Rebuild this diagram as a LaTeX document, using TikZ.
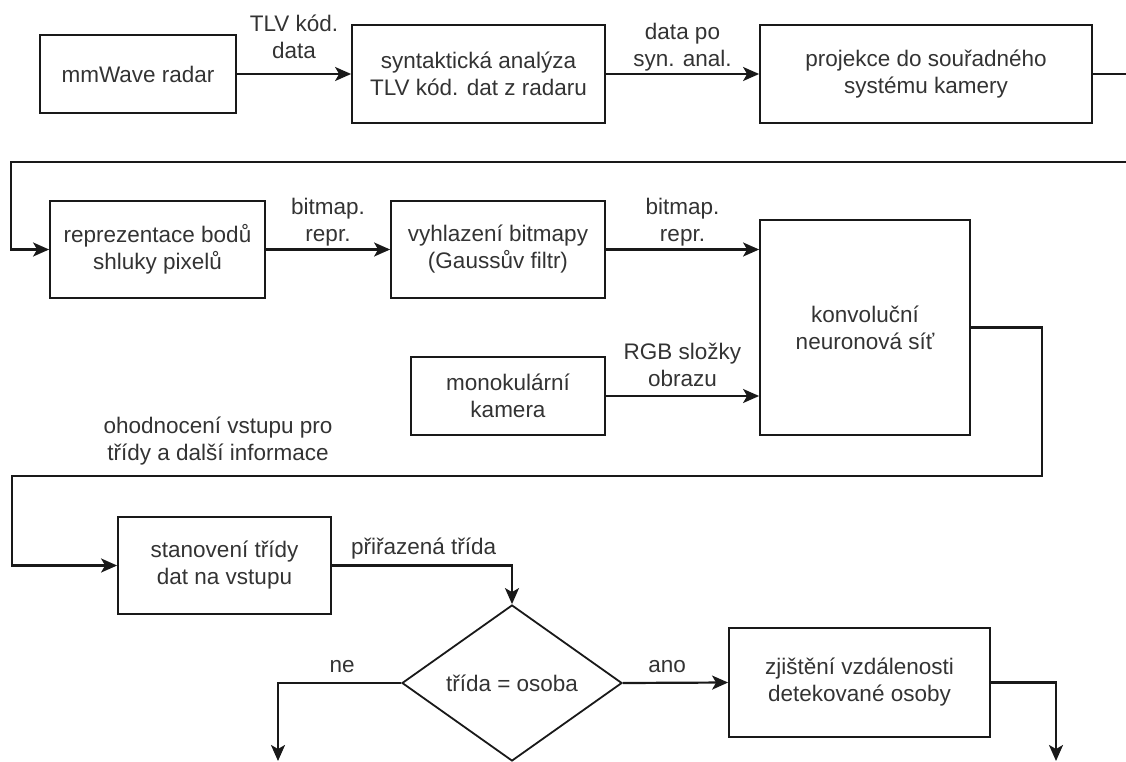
\documentclass[tikz,border=0pt]{standalone}
\usepackage{fontspec}
\setmainfont{Liberation Sans}
\usetikzlibrary{shapes.geometric, arrows.meta, positioning, calc}
\tikzstyle{process} = [rectangle, draw=black!90, line width=1.8pt, inner sep=0pt, text centered, align=center, text=black!80, font=\fontsize{22.5}{27}\selectfont]
\tikzstyle{decision} = [diamond, draw=black!90, line width=1.8pt, inner sep=0pt, minimum width=220pt, minimum height=156pt, text=black!80, font=\fontsize{22.5}{27}\selectfont]
\tikzstyle{lbl} = [inner sep=0pt, align=center, text=black!80, font=\fontsize{22.5}{27}\selectfont]
\tikzstyle{flow} = [draw=black!90, line width=2.2pt, -{Stealth[length=16pt, width=14pt, inset=4pt]}]

\begin{document}
\begin{tikzpicture}[x=1pt, y=-1pt]
    \useasboundingbox (0,0) rectangle (1126,762);
    % radar branch
    \node (radar) [process, minimum width=196pt, minimum height=78pt] at (138,74) {mmWave radar};
    \node (parse) [process, minimum width=253pt, minimum height=98pt] at (478.5,74) {syntaktická analýza\\TLV kód. dat z radaru};
    \node (proj) [process, minimum width=332pt, minimum height=98pt] at (926,74) {projekce do souřadného\\systému kamery};
    \node (repr) [process, minimum width=215pt, minimum height=97pt] at (157.5,249.5) {reprezentace bodů\\shluky pixelů};
    \node (smooth) [process, minimum width=214pt, minimum height=97pt] at (498,249.5) {vyhlazení bitmapy\\(Gaussův filtr)};
    % camera and network
    \node (cnn) [process, minimum width=210pt, minimum height=215pt] at (865,327.5) {konvoluční\\neuronová síť};
    \node (camera) [process, minimum width=194pt, minimum height=78pt] at (508,396) {monokulární\\kamera};
    % classification
    \node (classify) [process, minimum width=213pt, minimum height=97pt] at (224.5,565.5) {stanovení třídy\\dat na vstupu};
    \node (decide) [decision] at (512,683) {třída = osoba};
    \node (dist) [process, minimum width=261pt, minimum height=109pt] at (859.5,682.5) {zjištění vzdálenosti\\detekované osoby};

    \coordinate (turnA) at (1140,162);
    \coordinate (turnB) at (11,162);
    \coordinate (turnC) at (1042,476);
    \coordinate (turnD) at (12,476);
    \coordinate (noEnd) at (278,761);
    \coordinate (yesEnd) at (1056,761);

    \draw [flow] (radar) -- node[lbl, above=14pt] {TLV kód.\\data} (parse);
    \draw [flow] (parse) -- node[lbl, above=2pt] {data po\\syn. anal.} (proj);
    \draw [flow] (proj.east) -| (turnA) -- (turnB) |- (repr.west);
    \draw [flow] (repr) -- node[lbl, above=2pt] {bitmap.\\repr.} (smooth);
    \draw [flow] (smooth.east) -- node[lbl, above=2pt] {bitmap.\\repr.} (smooth.east -| cnn.west);
    \draw [flow] (camera.east) -- node[lbl, above=8pt] {RGB složky\\obrazu} (camera.east -| cnn.west);
    \draw [flow] (cnn.east) -| (turnC) -- node[lbl, pos=0.8, above=10pt] {ohodnocení vstupu pro\\třídy a další informace} (turnD) |- (classify.west);
    \draw [flow] (classify.east) -| node[lbl, pos=0.255, above=5pt] {přiřazená třída} (decide.north);
    \draw [flow] (decide.west) -| node[lbl, pos=0.24, above=9pt] {ne} (noEnd);
    \draw [flow] (decide.east) -- node[lbl, pos=0.42, above=9pt] {ano} (dist.west);
    \draw [flow] (dist.east) -| (yesEnd);
\end{tikzpicture}
\end{document}
